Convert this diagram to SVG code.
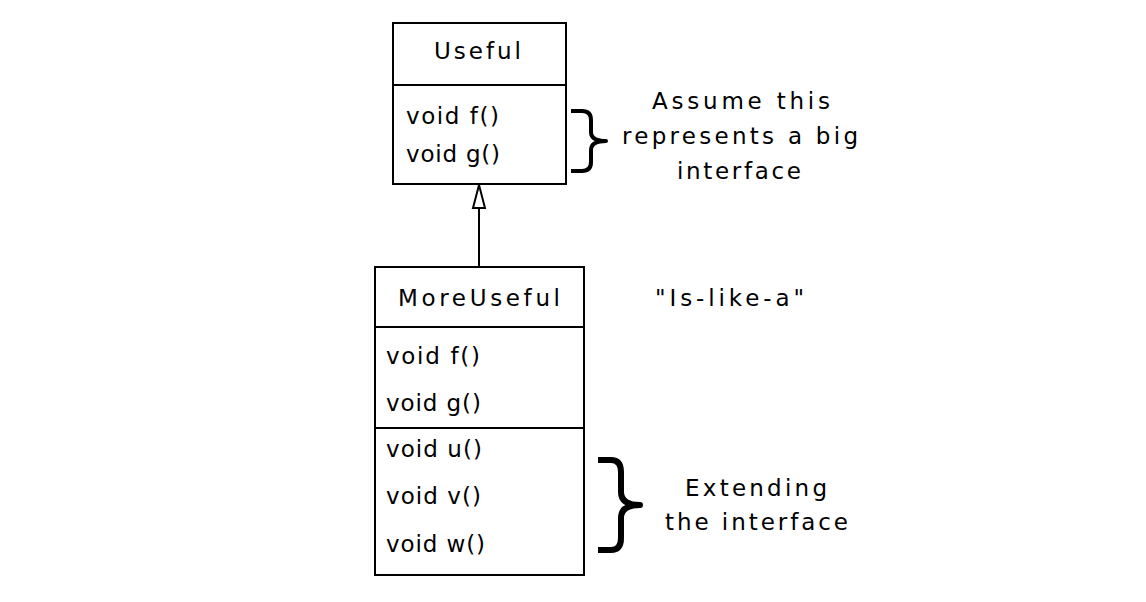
<svg xmlns="http://www.w3.org/2000/svg" width="1146" height="602" viewBox="0 0 1146 602">
<style>
.box{fill:#fff;stroke:#000;stroke-width:2}
.div{stroke:#000;stroke-width:2}
text{font-family:"DejaVu Sans","Verdana",sans-serif;font-size:23px;fill:#000}
.c{text-anchor:middle}
.brace{fill:none;stroke:#000;stroke-linecap:butt;stroke-linejoin:round}
</style>
<rect width="1146" height="602" fill="#fff"/>
<g id="connectors">
<line x1="479" y1="208" x2="479" y2="267" stroke="#000" stroke-width="2"/>
<polygon points="479,185 473,208 485,208" fill="#fff" stroke="#000" stroke-width="2"/>
</g>
<g id="useful">
<rect class="box" x="393" y="23" width="173" height="161"/>
<line class="div" x1="393" y1="85" x2="566" y2="85"/>
<text x="434" y="59" textLength="87" lengthAdjust="spacing">Useful</text>
<text x="406" y="124" textLength="93" lengthAdjust="spacing">void f()</text>
<text x="406" y="162" textLength="94" lengthAdjust="spacing">void g()</text>
</g>
<g id="moreuseful">
<rect class="box" x="375" y="267" width="209" height="308"/>
<line class="div" x1="375" y1="327" x2="584" y2="327"/>
<line class="div" x1="375" y1="428" x2="584" y2="428"/>
<text x="398" y="306" textLength="162" lengthAdjust="spacing">MoreUseful</text>
<text x="386" y="364" textLength="94" lengthAdjust="spacing">void f()</text>
<text x="386" y="411" textLength="95" lengthAdjust="spacing">void g()</text>
<text x="386" y="457" textLength="96" lengthAdjust="spacing">void u()</text>
<text x="386" y="504" textLength="95" lengthAdjust="spacing">void v()</text>
<text x="386" y="552" textLength="99" lengthAdjust="spacing">void w()</text>
</g>
<g id="brace1">
<path class="brace" stroke-width="4" d="M571,111 H582 Q591,111 591,120 V132 Q591,141 606,141 Q591,141 591,150 V162 Q591,171 582,171 H571"/>
</g>
<g id="note1">
<text x="652" y="109" textLength="178" lengthAdjust="spacing">Assume this</text>
<text x="622" y="144" textLength="236" lengthAdjust="spacing">represents a big</text>
<text x="677" y="179" textLength="124" lengthAdjust="spacing">interface</text>
</g>
<g id="islike">
<text x="655" y="306" textLength="149" lengthAdjust="spacing">"Is-like-a"</text>
</g>
<g id="brace2">
<path class="brace" stroke-width="6" d="M598,460 H611 Q621,460 621,472 V492 Q621,505 640,505 Q621,505 621,518 V538 Q621,550 611,550 H598"/>
</g>
<g id="note2">
<text x="685" y="496" textLength="142" lengthAdjust="spacing">Extending</text>
<text x="665" y="530" textLength="183" lengthAdjust="spacing">the interface</text>
</g>
</svg>
